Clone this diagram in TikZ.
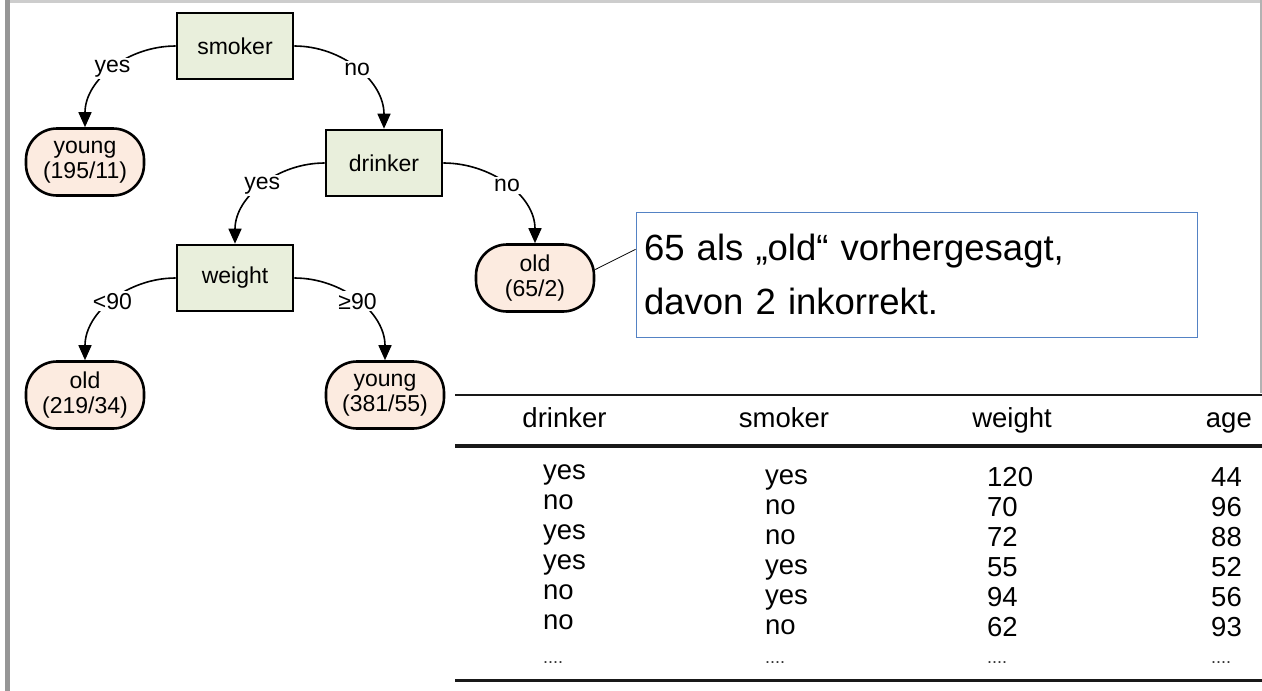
\documentclass[tikz,border=0pt]{standalone}
\usepackage{fontspec}
\setmainfont{Liberation Sans}
\usetikzlibrary{arrows.meta,calc}
\definecolor{decfill}{RGB}{233,239,220}
\definecolor{leaffill}{RGB}{252,235,224}
\definecolor{noteblue}{RGB}{84,130,196}
\definecolor{framegray}{RGB}{150,150,150}
\definecolor{bandgray}{RGB}{205,205,205}

\begin{document}
\begin{tikzpicture}[x=1pt,y=-1pt,
  treefont/.style={font=\fontsize{23}{25}\selectfont},
  decision/.style={treefont, draw, line width=2.6pt, fill=decfill,
    minimum width=116pt, minimum height=66pt, inner sep=0pt},
  leaf/.style={treefont, draw, line width=2.6pt, fill=leaffill,
    rounded corners=31pt, minimum width=118pt, minimum height=67pt,
    inner sep=0pt, align=center},
  branch/.style={line width=1.6pt, -{Triangle[length=15pt,width=13pt]}},
  branchlabel/.style={treefont, fill=white, inner sep=2pt},
  tabcell/.style={font=\fontsize{27.5}{30}\selectfont, inner sep=0pt},
  tabdots/.style={font=\fontsize{18}{20}\selectfont, inner sep=0pt, text=black!80},
  rule/.style={line width=#1, black!90}
]
% canvas
\path[use as bounding box] (0,0) rectangle (1262,691);
\fill[white] (0,0) rectangle (1262,691);

% window frame
\fill[bandgray] (5,0) rectangle (1262,3);
\fill[framegray] (5,0) rectangle (10,691);
\fill[black!30] (1260,0) rectangle (1262,393);

% decision tree
\node[decision] (smoker)  at (235,46)  {smoker};
\node[decision] (drinker) at (384,163) {drinker};
\node[decision] (weight)  at (235,278) {weight};

\node[leaf] (young1) at (85,162)  {young\\(195/11)};
\node[leaf] (old65)  at (535,278) {old\\(65/2)};
\node[leaf] (old219) at (85,395)  {old\\(219/34)};
\node[leaf] (young2) at (385,395) {young\\(381/55)};

\draw[branch] (smoker.west)  to[out=180,in=90] node[branchlabel] {yes} (young1.north);
\draw[branch] (smoker.east)  to[out=0,in=90]   node[branchlabel] {no}  (drinker.north);
\draw[branch] (drinker.west) to[out=180,in=90] node[branchlabel] {yes} (weight.north);
\draw[branch] (drinker.east) to[out=0,in=90]   node[branchlabel] {no}  (old65.north);
\draw[branch] (weight.west)  to[out=180,in=90] node[branchlabel] {<90} (old219.north);
\draw[branch] (weight.east)  to[out=0,in=90]   node[branchlabel] {≥90} (young2.north);

% note on the (65/2) leaf
\node[draw=noteblue, line width=0.9pt, fill=white,
      minimum width=561pt, minimum height=125pt,
      text width=545pt, align=left, inner xsep=8pt,
      font=\fontsize{36.5}{54}\selectfont]
  (note) at (916.5,274.5) {65 als „old“ vorhergesagt,\\davon 2 inkorrekt.};
\draw[line width=0.8pt] (old65.8) -- ($(note.north west)!0.3!(note.south west)$);

% sample table
\coordinate (tl) at (455,395);  \coordinate (tr) at (1262,395);
\coordinate (ml) at (455,446);  \coordinate (mr) at (1262,446);
\coordinate (bl) at (455,680);  \coordinate (br) at (1262,680);
\draw[rule=2pt] (tl) -- (tr);
\draw[rule=4.5pt] (ml) -- (mr);
\draw[rule=3pt] (bl) -- (br);

\node[tabcell, anchor=base]      (hdrink) at (564.5,427) {drinker};
\node[tabcell, anchor=base]      (hsmoke) at (784,427)   {smoker};
\node[tabcell, anchor=base]      (hweigh) at (1012,427)  {weight};
\node[tabcell, anchor=base east] (hage)   at (1252,427)  {age};

% drinker column
\node[tabcell, anchor=base west] (d1) at (543,479) {yes};
\node[tabcell, anchor=base west] (d2) at (543,509) {no};
\node[tabcell, anchor=base west] (d3) at (543,539) {yes};
\node[tabcell, anchor=base west] (d4) at (543,569) {yes};
\node[tabcell, anchor=base west] (d5) at (543,599) {no};
\node[tabcell, anchor=base west] (d6) at (543,629) {no};
\node[tabdots, anchor=base west] (d7) at (543,663) {....};
% smoker column
\node[tabcell, anchor=base west] (s1) at (765,484) {yes};
\node[tabcell, anchor=base west] (s2) at (765,514) {no};
\node[tabcell, anchor=base west] (s3) at (765,544) {no};
\node[tabcell, anchor=base west] (s4) at (765,574) {yes};
\node[tabcell, anchor=base west] (s5) at (765,604) {yes};
\node[tabcell, anchor=base west] (s6) at (765,634) {no};
\node[tabdots, anchor=base west] (s7) at (765,663) {....};
% weight column
\node[tabcell, anchor=base west] (w1) at (987,486) {120};
\node[tabcell, anchor=base west] (w2) at (987,516) {70};
\node[tabcell, anchor=base west] (w3) at (987,546) {72};
\node[tabcell, anchor=base west] (w4) at (987,576) {55};
\node[tabcell, anchor=base west] (w5) at (987,606) {94};
\node[tabcell, anchor=base west] (w6) at (987,636) {62};
\node[tabdots, anchor=base west] (w7) at (987,663) {....};
% age column
\node[tabcell, anchor=base west] (a1) at (1211,486) {44};
\node[tabcell, anchor=base west] (a2) at (1211,516) {96};
\node[tabcell, anchor=base west] (a3) at (1211,546) {88};
\node[tabcell, anchor=base west] (a4) at (1211,576) {52};
\node[tabcell, anchor=base west] (a5) at (1211,606) {56};
\node[tabcell, anchor=base west] (a6) at (1211,636) {93};
\node[tabdots, anchor=base west] (a7) at (1211,663) {....};
\end{tikzpicture}
\end{document}
